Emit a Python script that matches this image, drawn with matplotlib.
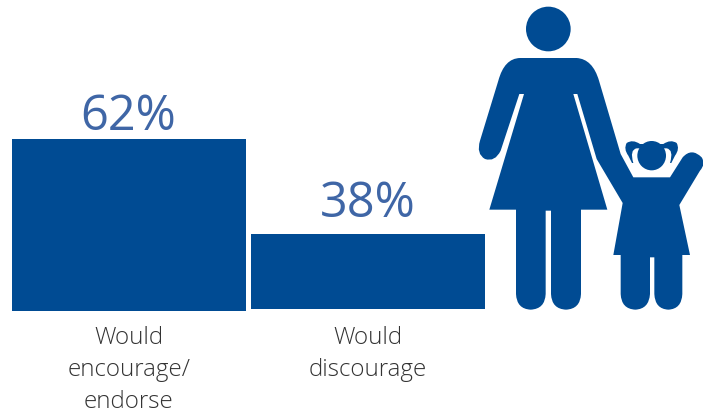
import matplotlib
matplotlib.use('Agg')
import matplotlib.pyplot as plt
from matplotlib.path import Path
from matplotlib.patches import PathPatch, Circle, Ellipse

plt.rcParams['font.family'] = ['Open Sans', 'DejaVu Sans']

categories = [['Would', 'encourage/', 'endorse'], ['Would', 'discourage']]
values = [62, 38]
baselines = [18.55, 19.05]  # the value axis does not start at zero
value_labels = ['62%', '38%']

BLUE = '#004b93'
LABEL_BLUE = '#3f66a6'
GREY = '#333333'


def shape(*segs):
    # (x, y) is a straight segment, (cx, cy, x, y) a quadratic curve
    verts = [segs[0]]
    codes = [Path.MOVETO]
    for s in segs[1:]:
        if len(s) == 2:
            verts.append(s)
            codes.append(Path.LINETO)
        else:
            verts += [s[:2], s[2:]]
            codes += [Path.CURVE3, Path.CURVE3]
    verts.append(segs[0])
    codes.append(Path.CLOSEPOLY)
    return Path(verts, codes)


def add(ax, *segs, color=BLUE):
    ax.add_patch(PathPatch(shape(*segs), fc=color, ec='none'))


fig = plt.figure(figsize=(7.03, 4.10), dpi=100)

# bars
ax = fig.add_axes([0, 0, 1, 1])
ax.set_xlim(-0.5397, 2.4017)
ax.set_ylim(-6.22, 97.37)
ax.axis('off')
for i in range(len(values)):
    ax.bar(i, values[i] - baselines[i], bottom=baselines[i], width=0.979, color=BLUE)

# value labels sit at slightly different distances from the bars
label_gaps = [7, 13]
for i in range(len(values)):
    ax.annotate(value_labels[i], (i - 0.002, values[i]), xytext=(0, label_gaps[i]),
                textcoords='offset points', ha='center', va='baseline',
                fontsize=35, color=LABEL_BLUE)

# category labels, one line at a time
for i in range(len(categories)):
    for j in range(len(categories[i])):
        ax.annotate(categories[i][j], (i, baselines[0]), xytext=(0, -23.1 - 22.9 * j),
                    textcoords='offset points', ha='center', va='baseline',
                    fontsize=17.4, color=GREY, fontweight='light')

# mother and daughter icon
icon = fig.add_axes([0, 0, 1, 1])
icon.set_xlim(-1410, 699)
icon.set_ylim(1230, 0)
icon.axis('off')
icon.patch.set_alpha(0)

icon.add_patch(Circle((235, 90), 67, fc=BLUE, ec='none'))

# mother's body, arms and legs, joined to the daughter's body by the hand
add(icon,
    (150, 177), (320, 177),
    (368, 180, 387, 245),
    (452, 465), (490, 535), (600, 535), (638, 475),
    (665, 445, 695, 475), (708, 495, 690, 515),
    (628, 618), (660, 768), (637, 768), (637, 885),
    (635, 930, 595, 932), (555, 930, 553, 885),
    (553, 775), (540, 775), (540, 885),
    (537, 930, 496, 932), (454, 930, 452, 885),
    (452, 768), (430, 768), (458, 612),
    (380, 480), (322, 285), (310, 285), (412, 632), (333, 632), (333, 885),
    (331, 930, 288, 932), (245, 930, 243, 885),
    (243, 635), (227, 635), (227, 885),
    (225, 930, 182, 932), (140, 930, 138, 885),
    (138, 632), (58, 632), (162, 285), (148, 285), (92, 455),
    (75, 490, 45, 480), (18, 465, 30, 425),
    (85, 245), (103, 178, 150, 177))

# daughter's pigtails and head
add(icon,
    (510, 435), (488, 420, 470, 432), (460, 450, 475, 470), (486, 492),
    (490, 492), (478, 452, 500, 448), (590, 448),
    (612, 452, 600, 492), (604, 492), (615, 470),
    (630, 450, 620, 432), (602, 420, 580, 435))
icon.add_patch(Ellipse((545, 470), 86, 88, fc=BLUE, ec='none'))

fig.savefig('out.png', dpi=100)
